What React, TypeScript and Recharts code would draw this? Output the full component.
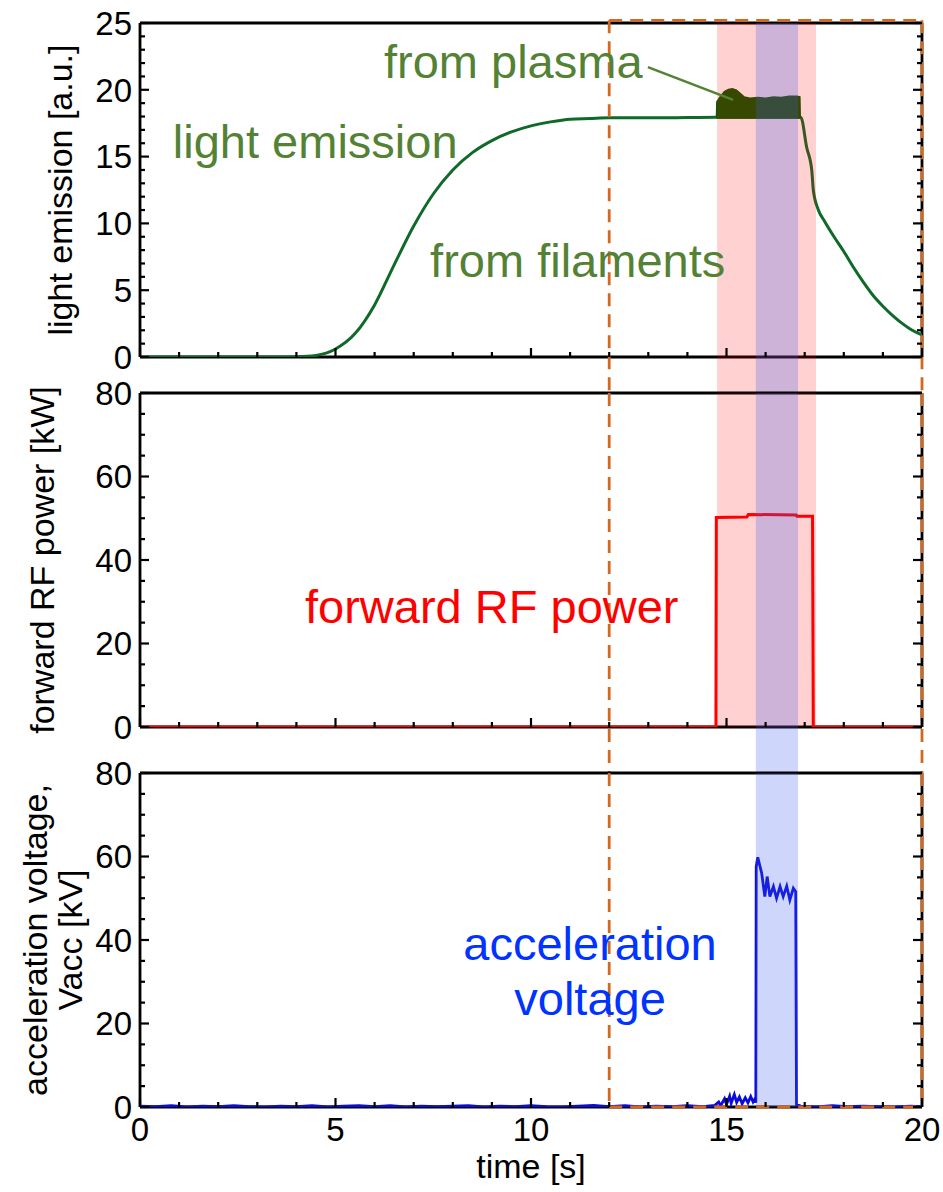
import React from 'react';
import {
  ComposedChart,
  Line,
  Area,
  XAxis,
  YAxis,
  ReferenceArea,
  ReferenceLine,
  ReferenceDot,
} from 'recharts';

const FONT = '"Liberation Sans", Arial, Helvetica, sans-serif';

// ---- axis ticks ----
const timeTicks = [0, 1, 2, 3, 4, 5, 6, 7, 8, 9, 10, 11, 12, 13, 14, 15, 16, 17, 18, 19, 20];
const timeLabels = [0, 5, 10, 15, 20];
const lightTicks = [0, 1, 2, 3, 4, 5, 6, 7, 8, 9, 10, 11, 12, 13, 14, 15, 16, 17, 18, 19, 20, 21, 22, 23, 24, 25];
const lightLabels = [0, 5, 10, 15, 20, 25];
const kiloTicks = [0, 5, 10, 15, 20, 25, 30, 35, 40, 45, 50, 55, 60, 65, 70, 75, 80];
const kiloLabels = [0, 20, 40, 60, 80];

// ---- measured signals: [time s, value] ----
const lightEmission: number[][] = [
  [0, 0], [2, 0], [3.5, 0], [4, 0.02], [4.5, 0.12], [5, 0.6], [5.5, 1.75], [6, 3.9],
  [6.5, 6.9], [7, 9.8], [7.5, 12.2], [8, 14.0], [8.5, 15.3], [9, 16.2], [9.5, 16.85],
  [10, 17.3], [10.5, 17.6], [11, 17.8], [11.5, 17.85], [12, 17.9], [13, 17.9], [14, 17.92],
  [14.75, 17.95], [16.9, 17.95], [17.05, 15.7], [17.18, 14.0], [17.22, 12.5], [17.35, 11.0],
  [17.5, 10.2], [17.75, 9.0], [18, 7.9], [18.25, 6.7], [18.5, 5.6], [18.75, 4.6], [19, 3.8],
  [19.25, 3.1], [19.5, 2.5], [19.75, 2.0], [20, 1.65],
];

// plasma light rides on top of the filament light: [time, low, high]
const plasmaBand: number[][] = [
  [14.75, 17.95, 17.95], [14.76, 17.9, 19.1], [14.85, 17.9, 19.5], [14.95, 17.9, 19.85],
  [15.05, 17.9, 20.0], [15.15, 17.9, 20.05], [15.25, 17.9, 19.95], [15.35, 17.9, 19.7],
  [15.45, 17.9, 19.45], [15.6, 17.9, 19.35], [15.8, 17.9, 19.4], [16.0, 17.9, 19.35],
  [16.2, 17.9, 19.45], [16.4, 17.9, 19.4], [16.6, 17.9, 19.5], [16.8, 17.9, 19.5],
  [16.87, 17.9, 19.45], [16.88, 17.95, 17.95],
];

const forwardPower: number[][] = [
  [0, 0], [14.73, 0], [14.74, 50.2], [15.52, 50.3], [15.56, 50.9], [16.78, 50.8],
  [16.8, 50.5], [17.2, 50.5], [17.22, 0], [20, 0],
];

const accVoltage: number[][] = [
  [0, 0.2], [0.4, 0.1], [0.8, 0.3], [1.2, 0.0], [1.6, 0.2], [2.0, 0.1], [2.4, 0.3], [2.8, 0.1],
  [3.2, 0.0], [3.6, 0.2], [4.0, 0.1], [4.4, 0.3], [4.8, 0.0], [5.2, 0.2], [5.6, 0.3], [6.0, 0.1],
  [6.4, 0.3], [6.8, 0.0], [7.2, 0.2], [7.6, 0.1], [8.0, 0.2], [8.4, 0.3], [8.8, 0.0], [9.2, 0.2],
  [9.6, 0.1], [10.0, 0.3], [10.4, 0.1], [10.8, 0.0], [11.2, 0.2], [11.6, 0.4], [12.0, 0.1],
  [12.4, 0.3], [12.8, 0.0], [13.2, 0.2], [13.6, 0.1], [14.0, 0.3], [14.4, 0.1], [14.7, 0.4],
  [14.8, 1.2], [14.85, 0.3], [14.95, 2.0], [15.0, 0.6], [15.08, 2.6], [15.12, 0.9], [15.2, 3.0],
  [15.26, 1.1], [15.33, 2.4], [15.4, 0.8], [15.48, 2.2], [15.55, 1.0], [15.62, 2.5], [15.68, 1.2],
  [15.73, 2.0], [15.75, 1.0], [15.76, 57.5], [15.8, 59.8], [15.9, 56.0], [15.98, 50.4],
  [16.04, 55.2], [16.11, 50.4], [16.2, 52.8], [16.28, 50.0], [16.37, 52.8], [16.45, 50.4],
  [16.54, 52.9], [16.62, 49.6], [16.71, 52.4], [16.77, 51.6], [16.79, 0.6], [16.9, 0.2],
  [17.3, 0.0], [17.7, 0.3], [18.1, 0.1], [18.5, 0.2], [18.9, 0.1], [19.3, 0.0], [19.7, 0.2],
  [20, 0.1],
];

// time windows
const rfWindow = [14.76, 17.29];
const accWindow = [15.75, 16.83];
const zoomWindow = [12, 20];

const toPoints = (rows: number[][]) => rows.map(([t, v]) => ({ t, v }));
const toBand = (rows: number[][]) => rows.map(([t, lo, hi]) => ({ t, r: [lo, hi] }));

// ---- styling ----
const GREEN_LINE = '#0f6a2a';
const GREEN_TEXT = '#548235';
const BAND = '#0b5a00';
const RED = '#ff0000';
const BLUE_LINE = '#0b0bdc';
const BLUE_TEXT = '#0033ff';
const ORANGE = '#d2691e';
const PINK_FILL = '#ff0000';
const BLUE_FILL = '#3c5af0';

const axisLine = { stroke: '#000', strokeWidth: 2.8 };

type Side = 'left' | 'right' | 'top' | 'bottom';

const makeTick = (side: Side, labels: number[], labelled: boolean) => (props: any) => {
  const { x, y, payload } = props;
  const v = payload.value;
  const major = labels.includes(v);
  const len = major ? 9 : 5;
  let x2 = x;
  let y2 = y;
  if (side === 'left') x2 = x + len;
  if (side === 'right') x2 = x - len;
  if (side === 'top') y2 = y + len;
  if (side === 'bottom') y2 = y - len;
  return (
    <g>
      <line x1={x} y1={y} x2={x2} y2={y2} stroke="#000" strokeWidth={2.2} />
      {labelled && major && side === 'left' && (
        <text x={x - 8} y={y} dy="0.36em" textAnchor="end" fontFamily={FONT} fontSize={33} fill="#000">
          {v}
        </text>
      )}
      {labelled && major && side === 'bottom' && (
        <text x={x} y={y + 34} textAnchor="middle" fontFamily={FONT} fontSize={33} fill="#000">
          {v}
        </text>
      )}
    </g>
  );
};

const AxisTitle = (props: any) => {
  const { lines, baselines, cy } = props;
  return (
    <g>
      {lines.map((s: string, i: number) => (
        <text
          key={i}
          transform={`translate(${baselines[i]},${cy}) rotate(-90)`}
          textAnchor="middle"
          fontFamily={FONT}
          fontSize={34}
          fill="#000"
        >
          {s}
        </text>
      ))}
    </g>
  );
};

const TimeTitle = (props: any) => (
  <text x={531} y={props.baseline} textAnchor="middle" fontFamily={FONT} fontSize={34} fill="#000">
    time [s]
  </text>
);

const note = (text: string, color: string, anchor: 'start' | 'middle' = 'start') => (p: any) => (
  <text x={p.cx} y={p.cy} textAnchor={anchor} fontFamily={FONT} fontSize={47} fill={color}>
    {text}
  </text>
);

// Frame of four axes; each axis is 1px thick so the plot box stays where the margins put it.
function frameAxes(
  yDomain: number[],
  yTicks: number[],
  yLabels: number[],
  showTime: boolean,
  title: React.ReactElement,
  timeBaseline = 0,
) {
  return [
    <XAxis
      key="xb"
      xAxisId={0}
      dataKey="t"
      type="number"
      domain={[0, 20]}
      allowDataOverflow
      ticks={timeTicks}
      interval={0}
      height={1}
      tickSize={0}
      tickMargin={0}
      tickLine={false}
      axisLine={axisLine}
      tick={makeTick('bottom', timeLabels, showTime)}
      label={showTime ? <TimeTitle baseline={timeBaseline} /> : undefined}
      zIndex={500}
    />,
    <XAxis
      key="xt"
      xAxisId="top"
      orientation="top"
      type="number"
      domain={[0, 20]}
      allowDataOverflow
      ticks={timeTicks}
      interval={0}
      height={1}
      tickSize={0}
      tickMargin={0}
      tickLine={false}
      axisLine={axisLine}
      tick={makeTick('top', timeLabels, false)}
      zIndex={500}
    />,
    <YAxis
      key="yl"
      yAxisId={0}
      type="number"
      domain={yDomain}
      allowDataOverflow
      ticks={yTicks}
      interval={0}
      width={1}
      tickSize={0}
      tickMargin={0}
      tickLine={false}
      axisLine={axisLine}
      tick={makeTick('left', yLabels, true)}
      label={title}
      zIndex={500}
    />,
    <YAxis
      key="yr"
      yAxisId="right"
      orientation="right"
      type="number"
      domain={yDomain}
      allowDataOverflow
      ticks={yTicks}
      interval={0}
      width={1}
      tickSize={0}
      tickMargin={0}
      tickLine={false}
      axisLine={axisLine}
      tick={makeTick('right', yLabels, false)}
      zIndex={500}
    />,
  ];
}

const dashed = { stroke: ORANGE, strokeWidth: 2.8, strokeDasharray: '13 8' };

function LightPanel() {
  return (
    <ComposedChart width={943} height={393} margin={{ top: 22, right: 20, bottom: 35, left: 139 }}>
      {frameAxes([0, 25], lightTicks, lightLabels, false,
        <AxisTitle lines={['light emission [a.u.]']} baselines={[72]} cy={190} />)}
      <Line
        data={toPoints(lightEmission)}
        dataKey="v"
        type="monotone"
        stroke={GREEN_LINE}
        strokeWidth={3}
        dot={false}
        activeDot={false}
        isAnimationActive={false}
        zIndex={600}
      />
      <Area
        data={toBand(plasmaBand)}
        dataKey="r"
        type="linear"
        stroke={BAND}
        strokeWidth={2}
        fill={BAND}
        fillOpacity={1}
        dot={false}
        activeDot={false}
        isAnimationActive={false}
        zIndex={600}
      />
      <ReferenceArea x1={rfWindow[0]} x2={rfWindow[1]} y1={-2.7} y2={25} ifOverflow="visible"
        fill={PINK_FILL} fillOpacity={0.18} stroke="none" zIndex={650} />
      <ReferenceArea x1={accWindow[0]} x2={accWindow[1]} y1={-2.7} y2={25} ifOverflow="visible"
        fill={BLUE_FILL} fillOpacity={0.25} stroke="none" zIndex={660} />
      <ReferenceLine segment={[{ x: zoomWindow[0], y: 25.2 }, { x: zoomWindow[1], y: 25.2 }]}
        ifOverflow="visible" {...dashed} zIndex={700} />
      <ReferenceLine segment={[{ x: zoomWindow[0], y: 25.2 }, { x: zoomWindow[0], y: -2.7 }]}
        ifOverflow="visible" {...dashed} zIndex={700} />
      <ReferenceLine segment={[{ x: zoomWindow[1], y: 25.2 }, { x: zoomWindow[1], y: -2.7 }]}
        ifOverflow="visible" {...dashed} zIndex={700} />
      <ReferenceLine segment={[{ x: 12.99, y: 21.7 }, { x: 15.17, y: 19.24 }]}
        ifOverflow="visible" stroke={GREEN_TEXT} strokeWidth={2.5} zIndex={700} />
      <ReferenceDot x={0.84} y={14.9} r={0} ifOverflow="visible" shape={note('light emission', GREEN_TEXT)} zIndex={800} />
      <ReferenceDot x={7.42} y={5.99} r={0} ifOverflow="visible" shape={note('from filaments', GREEN_TEXT)} zIndex={800} />
      <ReferenceDot x={6.24} y={20.88} r={0} ifOverflow="visible" shape={note('from plasma', GREEN_TEXT)} zIndex={800} />
    </ComposedChart>
  );
}

function PowerPanel() {
  return (
    <ComposedChart width={943} height={416} margin={{ top: 35, right: 20, bottom: 45, left: 139 }}>
      {frameAxes([0, 80], kiloTicks, kiloLabels, false,
        <AxisTitle lines={['forward RF power [kW]']} baselines={[54]} cy={203} />)}
      <Line
        data={toPoints(forwardPower)}
        dataKey="v"
        type="linear"
        stroke={RED}
        strokeWidth={3}
        dot={false}
        activeDot={false}
        isAnimationActive={false}
        zIndex={600}
      />
      <ReferenceArea x1={rfWindow[0]} x2={rfWindow[1]} y1={0} y2={80} ifOverflow="visible"
        fill={PINK_FILL} fillOpacity={0.18} stroke="none" zIndex={650} />
      <ReferenceArea x1={accWindow[0]} x2={accWindow[1]} y1={-11.02} y2={80} ifOverflow="visible"
        fill={BLUE_FILL} fillOpacity={0.25} stroke="none" zIndex={660} />
      <ReferenceLine segment={[{ x: zoomWindow[0], y: 80 }, { x: zoomWindow[0], y: -11.02 }]}
        ifOverflow="visible" {...dashed} zIndex={700} />
      <ReferenceLine segment={[{ x: zoomWindow[1], y: 80 }, { x: zoomWindow[1], y: -11.02 }]}
        ifOverflow="visible" {...dashed} zIndex={700} />
      <ReferenceDot x={4.22} y={24.9} r={0} ifOverflow="visible" shape={note('forward RF power', RED)} zIndex={800} />
    </ComposedChart>
  );
}

function VoltagePanel() {
  return (
    <ComposedChart width={943} height={465} margin={{ top: 45, right: 20, bottom: 84, left: 139 }}>
      {frameAxes([0, 80], kiloTicks, kiloLabels, true,
        <AxisTitle lines={['acceleration voltage,', 'Vacc [kV]']} baselines={[47, 82]} cy={213} />, 451)}
      <Line
        data={toPoints(accVoltage)}
        dataKey="v"
        type="linear"
        stroke={BLUE_LINE}
        strokeWidth={2.8}
        dot={false}
        activeDot={false}
        isAnimationActive={false}
        zIndex={600}
      />
      <ReferenceArea x1={accWindow[0]} x2={accWindow[1]} y1={0} y2={80} ifOverflow="visible"
        fill={BLUE_FILL} fillOpacity={0.25} stroke="none" zIndex={660} />
      <ReferenceLine segment={[{ x: zoomWindow[0], y: 80 }, { x: zoomWindow[0], y: 0 }]}
        ifOverflow="visible" {...dashed} zIndex={700} />
      <ReferenceLine segment={[{ x: zoomWindow[1], y: 80 }, { x: zoomWindow[1], y: 0 }]}
        ifOverflow="visible" {...dashed} zIndex={700} />
      <ReferenceLine segment={[{ x: zoomWindow[0], y: 0 }, { x: zoomWindow[1], y: 0 }]}
        ifOverflow="visible" {...dashed} zIndex={700} />
      <ReferenceDot x={11.51} y={35.2} r={0} ifOverflow="visible" shape={note('acceleration', BLUE_TEXT, 'middle')} zIndex={800} />
      <ReferenceDot x={11.51} y={22.0} r={0} ifOverflow="visible" shape={note('voltage', BLUE_TEXT, 'middle')} zIndex={800} />
    </ComposedChart>
  );
}

export default function App() {
  return (
    <div style={{ position: 'absolute', left: 0, top: 0, width: 943, height: 1192, background: '#fff', overflow: 'hidden' }}>
      <div style={{ position: 'absolute', left: 0, top: 0 }}>
        <LightPanel />
      </div>
      <div style={{ position: 'absolute', left: 0, top: 357 }}>
        <PowerPanel />
      </div>
      <div style={{ position: 'absolute', left: 0, top: 727 }}>
        <VoltagePanel />
      </div>
    </div>
  );
}
